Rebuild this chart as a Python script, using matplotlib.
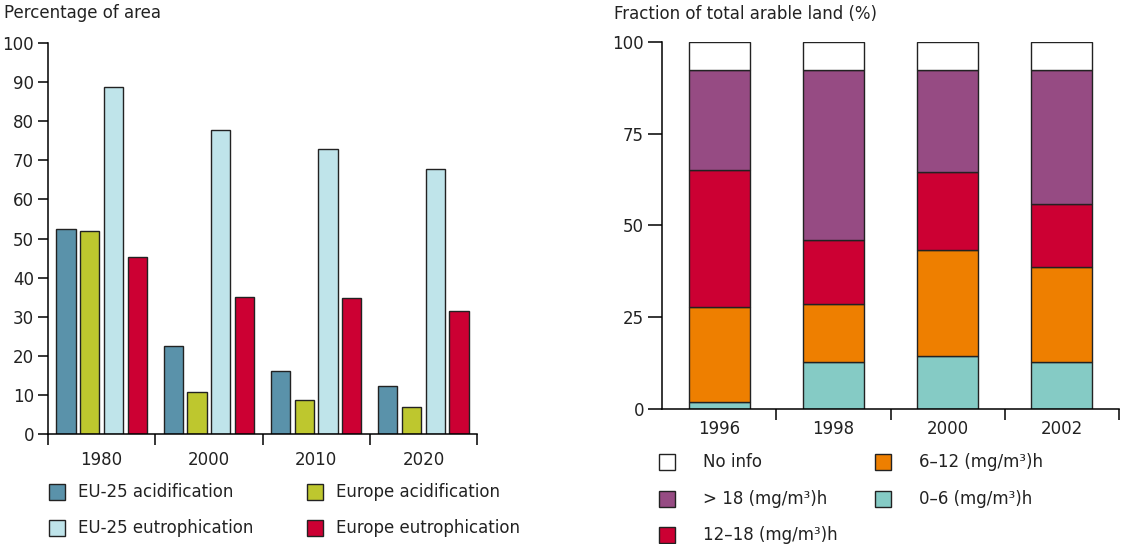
import numpy as np
import matplotlib
matplotlib.use("Agg")
import matplotlib.pyplot as plt
from matplotlib.patches import Rectangle
from matplotlib.ticker import FixedLocator

plt.rcParams['font.family'] = ['DejaVu Sans']
plt.rcParams['text.color'] = '#222222'
plt.rcParams['xtick.labelcolor'] = '#222222'
plt.rcParams['ytick.labelcolor'] = '#222222'

# left chart: percentage of area exceeding critical loads
years_left = ['1980', '2000', '2010', '2020']
eu25_acid = [52.5, 22.4, 16.1, 12.4]
europe_acid = [52.0, 10.7, 8.8, 6.8]
eu25_eutro = [88.7, 77.8, 73.0, 67.7]
europe_eutro = [45.2, 35.1, 34.7, 31.5]
left_names = ['EU-25 acidification', 'Europe acidification',
              'EU-25 eutrophication', 'Europe eutrophication']
left_colors = ['#5a92aa', '#bec72e', '#bfe4ea', '#cc0033']

# right chart: fraction of arable land by ozone exposure class
years_right = ['1996', '1998', '2000', '2002']
cls_0_6 = [2.0, 12.8, 14.5, 12.9]
cls_6_12 = [25.9, 15.9, 28.9, 25.8]
cls_12_18 = [37.3, 17.2, 21.0, 17.1]
cls_gt18 = [27.1, 46.4, 27.9, 36.5]
cls_noinfo = [7.7, 7.7, 7.7, 7.7]
right_names = ['No info', '> 18 (mg/m³)h', '12–18 (mg/m³)h',
               '6–12 (mg/m³)h', '0–6 (mg/m³)h']
right_colors = ['#ffffff', '#964b83', '#cc0033', '#ee7f00', '#85cbc5']

W, H = 1121, 544
fig = plt.figure(figsize=(W / 100, H / 100), dpi=100)

def px_axes(x0, y0, x1, y1):
    return fig.add_axes([x0 / W, 1 - y1 / H, (x1 - x0) / W, (y1 - y0) / H])

def style_axes(ax, n, first_tick, pad):
    for s in ['top', 'right']:
        ax.spines[s].set_visible(False)
    for s in ['left', 'bottom']:
        ax.spines[s].set_linewidth(1.1)
    ax.set_xlim(0, n)
    ax.set_xticks(np.arange(n) + 0.5)
    ax.xaxis.set_minor_locator(FixedLocator(np.arange(first_tick, n + 1)))
    ax.tick_params(axis='x', which='major', length=0, pad=pad, labelsize=12)
    ax.tick_params(axis='x', which='minor', length=8, width=1.1, direction='out')
    ax.tick_params(axis='y', length=7, width=1.1, pad=3, labelsize=12)

def legend_at(entries, colors, positions, gap):
    for name, col, (x, y) in zip(entries, colors, positions):
        fig.add_artist(Rectangle(((x - 8) / W, 1 - (y + 8) / H), 16 / W, 16 / H,
                                 facecolor=col, edgecolor='#222222', lw=1.0,
                                 transform=fig.transFigure))
        fig.text((x + gap) / W, 1 - y / H, name, fontsize=12, va='center', ha='left')

# ---- left chart
ax1 = px_axes(48, 43, 477, 434)
x = np.arange(len(years_left)) + 0.5
width = 0.18
step = 0.222
for i, (vals, col) in enumerate(zip([eu25_acid, europe_acid, eu25_eutro, europe_eutro], left_colors)):
    ax1.bar(x + (i - 1.5) * step, vals, width, color=col, edgecolor='#222222', linewidth=1.0)
ax1.set_ylim(0, 100)
ax1.set_yticks(range(0, 101, 10))
style_axes(ax1, 4, 0, 12)
ax1.set_xticklabels(years_left)
fig.text(4 / W, 1 - 13 / H, 'Percentage of area', fontsize=12, va='center', ha='left')

legend_at(left_names, left_colors,
          [(57, 492), (315, 492), (57, 528), (315, 528)], 21)

# ---- right chart
ax2 = px_axes(662, 41.7, 1119, 409)
xr = np.arange(len(years_right)) + 0.5
bottom = np.zeros(len(years_right))
stack = [(cls_0_6, right_colors[4]), (cls_6_12, right_colors[3]),
         (cls_12_18, right_colors[2]), (cls_gt18, right_colors[1]),
         (cls_noinfo, right_colors[0])]
for vals, col in stack:
    ax2.bar(xr, vals, 0.534, bottom=bottom, color=col, edgecolor='#222222', linewidth=1.0)
    bottom += np.array(vals)
ax2.set_ylim(0, 100)
ax2.set_yticks([0, 25, 50, 75, 100])
style_axes(ax2, 4, 1, 8)
ax2.tick_params(axis='y', length=10)
ax2.set_xticklabels(years_right)
fig.text(614 / W, 1 - 14 / H, 'Fraction of total arable land (%)', fontsize=12,
         va='center', ha='left')

legend_at(right_names, right_colors,
          [(667, 462), (667, 499), (667, 535), (883, 462), (883, 499)], 36)

fig.savefig('out.png', dpi=100)
